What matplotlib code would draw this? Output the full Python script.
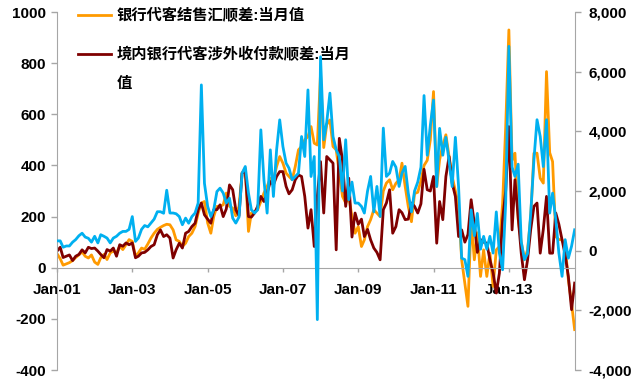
import numpy as np
import pandas as pd
import matplotlib
matplotlib.use('Agg')
import matplotlib.pyplot as plt
from matplotlib.ticker import FuncFormatter

plt.rcParams['font.family'] = ['Liberation Sans', 'Noto Sans CJK SC']
plt.rcParams['font.weight'] = 'bold'
plt.rcParams['axes.unicode_minus'] = False

months = pd.date_range('2001-01-01', periods=166, freq='MS')

# 银行代客结售汇顺差:当月值 (left axis)
fx_settle = [55, 35, 10, 15, 20, 28, 40, 50, 62, 45, 38, 50,
             22, 13, 39, 52, 32, 58, 65, 58, 84, 71, 90, 110,
             103, 45, 58, 77, 72, 93, 116, 135, 150, 158, 165, 170,
             168, 148, 109, 103, 83, 96, 122, 135, 161, 213, 253, 259,
             175, 135, 200, 240, 240, 246, 292, 240, 233, 203, 240, 370,
             389, 142, 214, 220, 227, 259, 292, 318, 350, 344, 396, 435,
             409, 370, 357, 344, 396, 461, 474, 500, 513, 552, 487, 480,
             760, 470, 560, 578, 474, 461, 370, 279, 253, 279, 200, 135,
             161, 83, 109, 161, 188, 227, 214, 200, 300, 331, 344, 305,
             330, 344, 409, 318, 240, 180, 290, 295, 340, 400, 420, 500,
             689, 318, 422, 480, 520, 435, 357, 300, 240, 31, -60, -151,
             188, 31, 137, -34, 70, -34, 57, -73, 70, 83, 250, 550,
             930, 420, 448, 190, 100, 31, 70, 200, 448, 448, 350, 331,
             767, 450, 415, 122, 110, 109, 83, -47, -140, -242]

# 境内银行代客涉外收付款顺差:当月值 (left axis)
cross_border = [65, 80, 40, 45, 50, 28, 45, 52, 70, 58, 80, 75,
                77, 65, 52, 39, 71, 65, 77, 45, 90, 84, 97, 90,
                97, 39, 45, 58, 60, 70, 83, 90, 129, 148, 122, 129,
                116, 38, 70, 96, 77, 135, 142, 161, 174, 227, 253, 207,
                190, 174, 227, 227, 246, 200, 230, 324, 305, 227, 203, 370,
                376, 200, 198, 214, 240, 279, 259, 292, 337, 324, 357, 376,
                376, 318, 289, 305, 344, 363, 357, 279, 155, 227, 83, 280,
                415, 214, 435, 422, 409, 70, 506, 420, 240, 350, 120, 214,
                170, 190, 122, 150, 109, 77, 60, 31, 227, 253, 305, 135,
                161, 227, 215, 188, 190, 253, 240, 214, 250, 385, 305, 300,
                357, 96, 259, 188, 357, 435, 331, 279, 122, 148, 100, 130,
                266, 173, 60, 110, 100, 96, 31, -20, -99, -21, 188, 300,
                552, 148, 344, 200, 57, -47, 30, 150, 240, 253, 57, 150,
                279, 57, 57, 214, 170, 109, 50, -34, -164, -60]

# 新增外汇占款 (right axis)
fx_reserve = [329, 329, 115, 158, 158, 286, 372, 500, 586, 457, 415, 286,
              483, 260, 535, 483, 423, 260, 423, 483, 586, 646, 646, 715,
              1143, 312, 423, 715, 843, 800, 929, 1058, 1306, 1306, 1255, 2026,
              1263, 1263, 1238, 1143, 869, 1092, 920, 1143, 1263, 1597, 5557, 2257,
              1486, 1143, 1375, 1983, 2095, 1932, 1597, 1760, 1092, 925, 1126, 2599,
              2822, 1929, 1371, 1260, 1371, 4050, 2376, 1260, 3380, 1818, 3380, 4385,
              3492, 2934, 2767, 2376, 2487, 2599, 3827, 3157, 5389, 2487, 3157, -2311,
              6500, 3718, 4300, 5282, 3830, 3383, 3160, 2000, 3718, 1708, 2300, 1596,
              1596, 1484, 1261, 2000, 2489, 1300, 2154, 1149, 4109, 2489, 2601, 2992,
              2800, 2154, 2600, 2825, 1931, 1300, 2000, 2300, 2800, 5200, 3200, 4200,
              5050, 2150, 4100, 3200, 3800, 3000, 2150, 3800, 2150, -250, -300, -860,
              1370, 500, 1250, 50, 480, 50, 480, -80, 1300, -80, -640, 1600,
              6850, 2800, 2490, 2900, 300, -300, -100, 1250, 3050, 4390, 3830, 2820,
              4390, 1260, 1930, 1040, -80, -860, 370, -250, 150, 700]

xticks = pd.date_range('2001-01-01', '2013-01-01', freq='24MS')

fig = plt.figure(figsize=(6.43, 3.87), dpi=100)
ax = fig.add_axes([0.0887, 0.0439, 0.805, 0.925])
ax2 = ax.twinx()

ax.plot(months, fx_settle, color='#FF9A00', lw=2.0, label='银行代客结售汇顺差:当月值')
ax.plot(months, cross_border, color='#7F0000', lw=2.0,
        label='境内银行代客涉外收付款顺差:当月')
ax2.plot(months, fx_reserve, color='#00B0F0', lw=2.0)

ax.set_xlim(months[0], months[-1])
ax.set_ylim(-400, 1000)
ax2.set_ylim(-4000, 8000)
ax.set_yticks(np.arange(-400, 1001, 200))
ax2.set_yticks(np.arange(-4000, 8001, 2000))
ax2.yaxis.set_major_formatter(FuncFormatter(lambda v, p: '{:,.0f}'.format(v)))

ax.set_xticks(xticks)
ax.set_xticklabels([d.strftime('%b-%y') for d in xticks])

gray = '#A6A6A6'
for a in (ax, ax2):
    a.spines['top'].set_visible(False)
    a.spines['left'].set_color(gray)
    a.spines['right'].set_color(gray)
    a.spines['bottom'].set_visible(False)
ax.spines['bottom'].set_visible(True)
ax.spines['bottom'].set_position(('data', 0))
ax.spines['bottom'].set_color(gray)
ax2.spines['left'].set_visible(False)
ax.spines['right'].set_visible(False)

ax.tick_params(axis='y', length=4, width=1, color=gray, pad=4, labelsize=11)
ax2.tick_params(axis='y', length=4, width=1, color=gray, pad=6, labelsize=11)
ax.tick_params(axis='x', length=3, width=1, color=gray, pad=8, labelsize=11)

ax.legend(loc='upper left', bbox_to_anchor=(0.04, 1.01), frameon=False,
          fontsize=11, handlelength=2.2, labelspacing=1.55, handletextpad=0.35,
          borderpad=0, borderaxespad=0)
ax.text(0.116, 0.80, '值', transform=ax.transAxes, fontsize=11, va='center', ha='left')

fig.savefig('out.png', dpi=100)
